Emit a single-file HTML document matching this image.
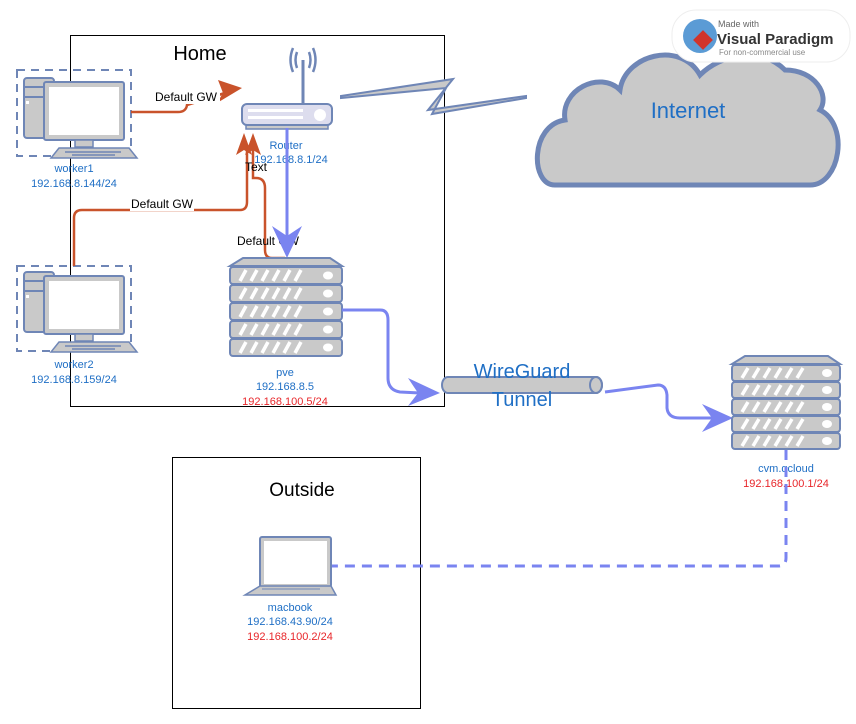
<!DOCTYPE html>
<html><head><meta charset="utf-8"><style>
html,body{margin:0;padding:0;background:#fff}
svg{display:block;font-family:"Liberation Sans",Arial,sans-serif}
</style></head><body>
<svg width="856" height="724" viewBox="0 0 856 724" xmlns="http://www.w3.org/2000/svg">
<defs>
<g id="unit">
  <rect x="0" y="0" width="112" height="17" rx="3" fill="#c9c9c9" stroke="#6f86b6" stroke-width="2"/>
  <g stroke="#fff" stroke-width="3.5">
    <line x1="10" y1="14" x2="16" y2="3"/><line x1="21" y1="14" x2="27" y2="3"/><line x1="32" y1="14" x2="38" y2="3"/>
    <line x1="43" y1="14" x2="49" y2="3"/><line x1="54" y1="14" x2="60" y2="3"/><line x1="65" y1="14" x2="71" y2="3"/>
  </g>
  <ellipse cx="98" cy="8.5" rx="5" ry="4" fill="#fff"/>
</g>
<g id="unit2">
  <rect x="0" y="0" width="108" height="16" rx="3" fill="#c9c9c9" stroke="#6f86b6" stroke-width="2"/>
  <g stroke="#fff" stroke-width="3.5">
    <line x1="10" y1="13" x2="16" y2="3"/><line x1="21" y1="13" x2="27" y2="3"/><line x1="32" y1="13" x2="38" y2="3"/>
    <line x1="43" y1="13" x2="49" y2="3"/><line x1="54" y1="13" x2="60" y2="3"/><line x1="65" y1="13" x2="71" y2="3"/>
  </g>
  <ellipse cx="95" cy="8" rx="5" ry="4" fill="#fff"/>
</g>
<g id="pc">
  <rect x="7" y="8" width="30" height="60" rx="3" fill="#c9c9c9" stroke="#6f86b6" stroke-width="2"/>
  <line x1="7" y1="17" x2="37" y2="17" stroke="#6f86b6" stroke-width="2"/>
  <line x1="7" y1="27" x2="37" y2="27" stroke="#6f86b6" stroke-width="2"/>
  <rect x="9" y="31" width="3" height="3" fill="#fff"/>
  <rect x="27" y="12" width="80" height="58" rx="2" fill="#c9c9c9" stroke="#6f86b6" stroke-width="2"/>
  <rect x="32" y="17" width="70" height="48" fill="#fff"/>
  <rect x="58" y="70" width="18" height="7" fill="#c9c9c9" stroke="#6f86b6" stroke-width="1.5"/>
  <polygon points="42,78 112,78 120,88 34,88" fill="#c9c9c9" stroke="#6f86b6" stroke-width="1.5"/>
  <line x1="48" y1="82" x2="104" y2="82" stroke="#6f86b6" stroke-width="1.5"/>
  <line x1="55" y1="85" x2="98" y2="85" stroke="#6f86b6" stroke-width="1.5"/>
</g>
</defs>

<rect x="70.5" y="35.5" width="374" height="371" fill="none" stroke="#000" stroke-width="1"/>
<rect x="172.5" y="457.5" width="248" height="251" fill="none" stroke="#000" stroke-width="1"/>
<text x="200" y="60" font-size="20" text-anchor="middle">Home</text>
<text x="302" y="496" font-size="19" text-anchor="middle">Outside</text>

<path d="M555,185 C530,185 530,125 565,120 C560,90 600,70 620,90 C625,55 680,40 700,75 C720,55 760,45 785,70 C815,70 830,95 820,110 C850,125 840,185 810,185 Z" fill="#c9c9c9" stroke="#6f86b6" stroke-width="5"/>
<text x="688" y="118" font-size="22" fill="#1f6fc5" text-anchor="middle">Internet</text>

<rect x="672" y="10" width="178" height="52" rx="24" fill="#fff" stroke="#eee"/>
<circle cx="700" cy="36" r="17" fill="#5b9bd5"/>
<rect x="696" y="33" width="14" height="14" fill="#d0342c" transform="rotate(45 703 40)"/>
<text x="718" y="27" font-size="9" fill="#666">Made with</text>
<text x="717" y="44" font-size="15" font-weight="bold" fill="#333">Visual Paradigm</text>
<text x="719" y="55" font-size="8" fill="#888">For non-commercial use</text>

<polygon points="341,96 453,79 428,110 526,96 526,98 432,114 446,88 341,98" fill="#c9c9c9" stroke="#6f86b6" stroke-width="2"/>

<rect x="17" y="70" width="114" height="86" fill="none" stroke="#6f86b6" stroke-width="2" stroke-dasharray="8,6"/>
<use href="#pc" x="17" y="70"/>
<text x="74" y="172" font-size="11" fill="#1f6fc5" text-anchor="middle">worker1</text>
<text x="74" y="187" font-size="11" fill="#1f6fc5" text-anchor="middle">192.168.8.144/24</text>

<rect x="17" y="266" width="114" height="85" fill="none" stroke="#6f86b6" stroke-width="2" stroke-dasharray="8,6"/>
<use href="#pc" x="17" y="264"/>
<text x="74" y="368" font-size="11" fill="#1f6fc5" text-anchor="middle">worker2</text>
<text x="74" y="383" font-size="11" fill="#1f6fc5" text-anchor="middle">192.168.8.159/24</text>

<g fill="none" stroke="#c9532b" stroke-width="2.5">
  <path d="M131,112 H178 Q186,112 187,105 L228,92"/>
  <path d="M74,266 V218 Q74,210 82,210 H240 Q247,210 247,202 V150"/>
  <path d="M285,258 H272 Q265,258 265,250 V188 Q265,178 256,178 H253 V150"/>
</g>
<polygon points="242,88 218,80 223,93 217,103" fill="#c9532b"/>
<polygon points="244,133 236,155 244,150 252,155" fill="#c9532b"/>
<polygon points="253,133 245,155 253,150 261,155" fill="#c9532b"/>
<rect x="152" y="90" width="68" height="14" fill="#fff"/>
<text x="186" y="101" font-size="12" text-anchor="middle">Default GW</text>
<rect x="130" y="197" width="64" height="14" fill="#fff"/>
<text x="162" y="208" font-size="12" text-anchor="middle">Default GW</text>
<text x="256" y="171" font-size="12" text-anchor="middle">Text</text>
<text x="268" y="245" font-size="12" text-anchor="middle">Default GW</text>

<line x1="303" y1="60" x2="303" y2="106" stroke="#6f86b6" stroke-width="3"/>
<g fill="none" stroke="#6f86b6" stroke-width="2.5">
  <path d="M297,52 Q294,60 297,68"/><path d="M293,48 Q288,60 293,72"/>
  <path d="M309,52 Q312,60 309,68"/><path d="M313,48 Q318,60 313,72"/>
</g>
<rect x="246" y="123" width="82" height="6" fill="#c9c9c9" stroke="#6f86b6" stroke-width="1.5"/>
<rect x="242" y="104" width="90" height="21" rx="5" fill="#dde" stroke="#6f86b6" stroke-width="2"/>
<g fill="#fff"><rect x="248" y="109" width="55" height="3"/><rect x="248" y="116" width="55" height="3"/></g>
<circle cx="320" cy="115" r="6" fill="#fff"/>
<text x="286" y="149" font-size="11" fill="#1f6fc5" text-anchor="middle">Router</text>
<text x="291" y="163" font-size="11" fill="#1f6fc5" text-anchor="middle">192.168.8.1/24</text>

<line x1="287" y1="128" x2="287" y2="240" stroke="#7a84f0" stroke-width="3"/>
<polygon points="287,258 272,226 287,236 302,226" fill="#7a84f0"/>

<polygon points="243,258 330,258 342,266 230,266" fill="#c9c9c9" stroke="#6f86b6" stroke-width="2"/>
<use href="#unit" x="230" y="267"/><use href="#unit" x="230" y="285"/><use href="#unit" x="230" y="303"/>
<use href="#unit" x="230" y="321"/><use href="#unit" x="230" y="339"/>
<text x="285" y="376" font-size="11" fill="#1f6fc5" text-anchor="middle">pve</text>
<text x="285" y="390" font-size="11" fill="#1f6fc5" text-anchor="middle">192.168.8.5</text>
<text x="285" y="405" font-size="11" fill="#e8262a" text-anchor="middle">192.168.100.5/24</text>

<path d="M342,310 H380 Q388,310 388,320 V378 Q388,390 400,392 L420,393" fill="none" stroke="#7a84f0" stroke-width="3"/>
<polygon points="440,393 408,378 418,393 408,406" fill="#7a84f0"/>

<path d="M448,377 H596 A6,8 0 0 1 596,393 H448 A6,8 0 0 1 448,377 Z" fill="#c9c9c9" stroke="#6f86b6" stroke-width="2"/>
<ellipse cx="596" cy="385" rx="6" ry="8" fill="none" stroke="#6f86b6" stroke-width="2"/>
<text x="522" y="378" font-size="20" fill="#1f6fc5" text-anchor="middle">WireGuard</text>
<text x="522" y="406" font-size="20" fill="#1f6fc5" text-anchor="middle">Tunnel</text>

<path d="M605,392 L658,385 Q666,385 667,395 V408 Q668,418 680,418 L712,418" fill="none" stroke="#7a84f0" stroke-width="3"/>
<polygon points="733,418 702,404 712,418 702,432" fill="#7a84f0"/>

<polygon points="745,356 828,356 840,364 732,364" fill="#c9c9c9" stroke="#6f86b6" stroke-width="2"/>
<use href="#unit2" x="732" y="365"/><use href="#unit2" x="732" y="382"/><use href="#unit2" x="732" y="399"/><use href="#unit2" x="732" y="416"/><use href="#unit2" x="732" y="433"/>
<text x="786" y="472" font-size="11" fill="#1f6fc5" text-anchor="middle">cvm.qcloud</text>
<text x="786" y="487" font-size="11" fill="#e8262a" text-anchor="middle">192.168.100.1/24</text>

<path d="M786,450 V558 Q786,566 778,566 H330" fill="none" stroke="#7a84f0" stroke-width="3" stroke-dasharray="10,7"/>

<rect x="260" y="537" width="71" height="50" rx="2" fill="#c9c9c9" stroke="#6f86b6" stroke-width="2"/>
<rect x="264" y="541" width="63" height="43" fill="#fff"/>
<polygon points="260,586 331,586 336,595 245,595" fill="#c9c9c9" stroke="#6f86b6" stroke-width="1.5"/>
<line x1="262" y1="589" x2="320" y2="589" stroke="#6f86b6"/>
<text x="290" y="611" font-size="11" fill="#1f6fc5" text-anchor="middle">macbook</text>
<text x="290" y="625" font-size="11" fill="#1f6fc5" text-anchor="middle">192.168.43.90/24</text>
<text x="290" y="640" font-size="11" fill="#e8262a" text-anchor="middle">192.168.100.2/24</text>
</svg>
</body></html>
